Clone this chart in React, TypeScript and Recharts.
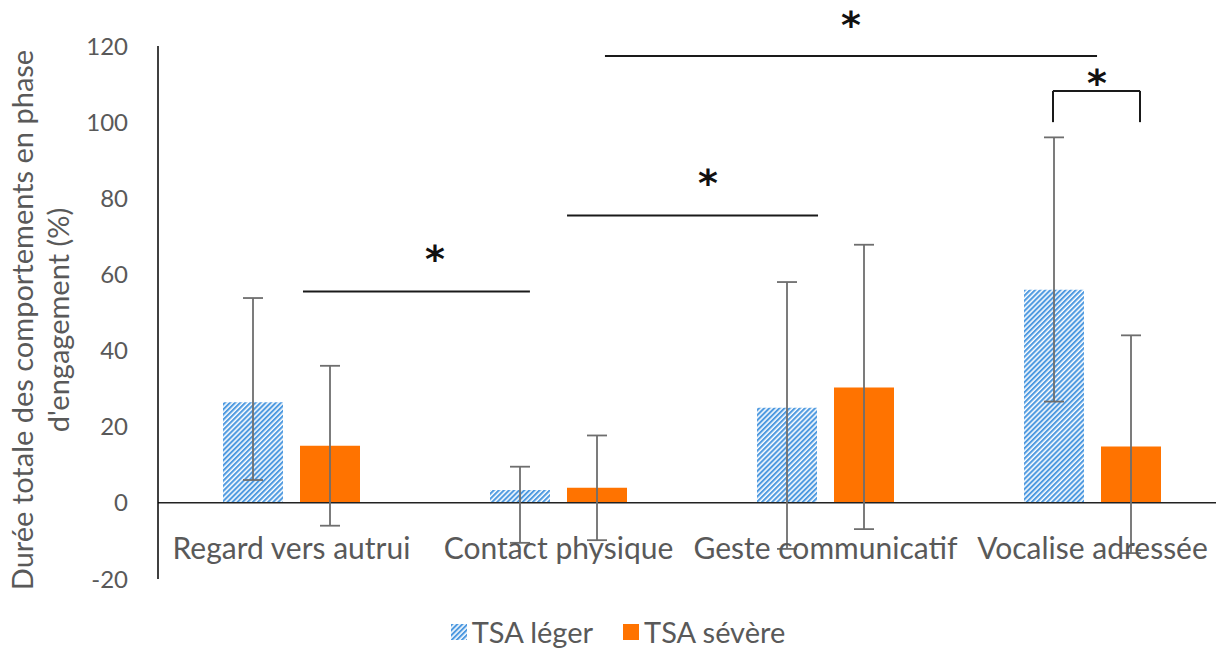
import {
  Bar,
  ComposedChart,
  ErrorBar,
  Legend,
  ReferenceDot,
  ReferenceLine,
  XAxis,
  YAxis,
} from "recharts";

const CATEGORIES = ["Regard vers autrui", "Contact physique", "Geste communicatif", "Vocalise adressée"];
const TSA_LEGER = [26.4, 3.4, 25, 56];
const TSA_SEVERE = [15, 4, 30.3, 14.8];
// [erreur basse, erreur haute]
const ERR_LEGER = [[20.4, 27.4], [13.9, 6.1], [37.1, 33], [29.4, 40]];
const ERR_SEVERE = [[21, 21], [13.8, 13.7], [37.2, 37.5], [28, 29.2]];
const Y_TICKS = [-20, 0, 20, 40, 60, 80, 100, 120];

// significativité : x en unités de catégorie (0..4), y en %
const SIG_LINES = [
  { x1: 0.543, x2: 1.393, y: 55.5, starX: 1.037, starY: 65 },
  { x1: 1.532, x2: 2.472, y: 75.5, starX: 2.06, starY: 85 },
  { x1: 1.674, x2: 3.517, y: 117.4, starX: 2.595, starY: 126.5 },
];
const SIG_BRACKET = { x1: 3.352, x2: 3.678, y: 108.2, foot: 100, starX: 3.517, starY: 111.3 };

const BLUE = "#4F9AE0";
const ORANGE = "#FF7300";
const TEXT = "#595959";

const data = CATEGORIES.map((name, i) => ({
  name,
  pos: i + 0.5,
  leger: TSA_LEGER[i],
  severe: TSA_SEVERE[i],
  errLeger: ERR_LEGER[i],
  errSevere: ERR_SEVERE[i],
}));

function CategoryTick({ x, y, payload }: any) {
  return (
    <text x={x} y={y - 20} textAnchor="middle" fill={TEXT} fontSize={30}>
      {payload.value}
    </text>
  );
}

function YTitle() {
  return (
    <g fill={TEXT} fontSize={29}>
      <text transform="translate(33,320) rotate(-90)" textAnchor="middle">
        Durée totale des comportements en phase
      </text>
      <text transform="translate(69,320) rotate(-90)" textAnchor="middle">
        d'engagement (%)
      </text>
    </g>
  );
}

function Star({ cx, cy }: any) {
  return (
    <text x={cx} y={cy + 17} textAnchor="middle" fontSize={38} fontWeight="bold" fill="#111" fontFamily="DejaVu Sans">
      *
    </text>
  );
}

function renderLegend({ payload }: any) {
  return (
    <div style={{ display: "flex", justifyContent: "center", alignItems: "center", gap: 30, fontSize: 29, color: TEXT }}>
      {(payload || []).map((entry: any) => (
        <span key={entry.value} style={{ display: "flex", alignItems: "center" }}>
          <svg width={16} height={16}>
            <rect width={16} height={16} fill={entry.color} />
          </svg>
          <span style={{ marginLeft: 5 }}>{entry.value}</span>
        </span>
      ))}
    </div>
  );
}

const SIG_STROKE = { stroke: "#1a1a1a", strokeWidth: 2 };

export default function App() {
  return (
    <div
      style={{
        position: "absolute",
        left: 0,
        top: 0,
        width: 1216,
        height: 648,
        overflow: "hidden",
        background: "#fff",
        fontFamily: "Lato, sans-serif",
      }}
    >
      <ComposedChart
        width={1226}
        height={648}
        data={data}
        margin={{ top: 46, right: 0, bottom: 9, left: 0 }}
        barSize={60}
        barGap={17}
      >
        <defs>
          <pattern id="hatch" width="3.6" height="3.6" patternUnits="userSpaceOnUse" patternTransform="rotate(45)">
            <rect width="2.1" height="3.6" fill={BLUE} />
          </pattern>
        </defs>
        <XAxis dataKey="name" height={30} axisLine={false} tickLine={false} tickSize={0} tickMargin={0} tick={<CategoryTick />} interval={0} />
        <XAxis
          xAxisId="ann"
          dataKey="pos"
          type="number"
          scale="linear"
          domain={[0, 4]}
          ticks={[0, 1, 2, 3, 4]}
          allowDataOverflow
          hide
        />
        <YAxis
          width={158}
          domain={[-20, 120]}
          ticks={Y_TICKS}
          interval={0}
          axisLine={{ stroke: "#000", strokeWidth: 1.5 }}
          tickLine={false}
          tickSize={0}
          tickMargin={30}
          tick={{ fill: TEXT, fontSize: 24 }}
          label={<YTitle />}
        />
        <ReferenceLine y={0} stroke="#222" strokeWidth={1.5} />
        <Bar dataKey="leger" name="TSA léger" fill="url(#hatch)" isAnimationActive={false}>
          <ErrorBar dataKey="errLeger" width={10} stroke="#6e6e6e" strokeWidth={1.8} direction="y" />
        </Bar>
        <Bar dataKey="severe" name="TSA sévère" fill={ORANGE} isAnimationActive={false}>
          <ErrorBar dataKey="errSevere" width={10} stroke="#6e6e6e" strokeWidth={1.8} direction="y" />
        </Bar>
        {SIG_LINES.map((s, i) => (
          <ReferenceLine
            key={"l" + i}
            xAxisId="ann"
            segment={[{ x: s.x1, y: s.y }, { x: s.x2, y: s.y }]}
            {...SIG_STROKE}
            ifOverflow="visible"
          />
        ))}
        <ReferenceLine
          xAxisId="ann"
          segment={[{ x: SIG_BRACKET.x1, y: SIG_BRACKET.foot }, { x: SIG_BRACKET.x1, y: SIG_BRACKET.y }]}
          {...SIG_STROKE}
          ifOverflow="visible"
        />
        <ReferenceLine
          xAxisId="ann"
          segment={[{ x: SIG_BRACKET.x1, y: SIG_BRACKET.y }, { x: SIG_BRACKET.x2, y: SIG_BRACKET.y }]}
          {...SIG_STROKE}
          ifOverflow="visible"
        />
        <ReferenceLine
          xAxisId="ann"
          segment={[{ x: SIG_BRACKET.x2, y: SIG_BRACKET.foot }, { x: SIG_BRACKET.x2, y: SIG_BRACKET.y }]}
          {...SIG_STROKE}
          ifOverflow="visible"
        />
        {[...SIG_LINES, SIG_BRACKET].map((s, i) => (
          <ReferenceDot key={"s" + i} xAxisId="ann" x={s.starX} y={s.starY} r={0} ifOverflow="visible" shape={<Star />} />
        ))}
        <Legend
          content={renderLegend}
          wrapperStyle={{ top: 614, left: 0, bottom: "auto", width: 1236, height: 30 }}
        />
      </ComposedChart>
    </div>
  );
}
